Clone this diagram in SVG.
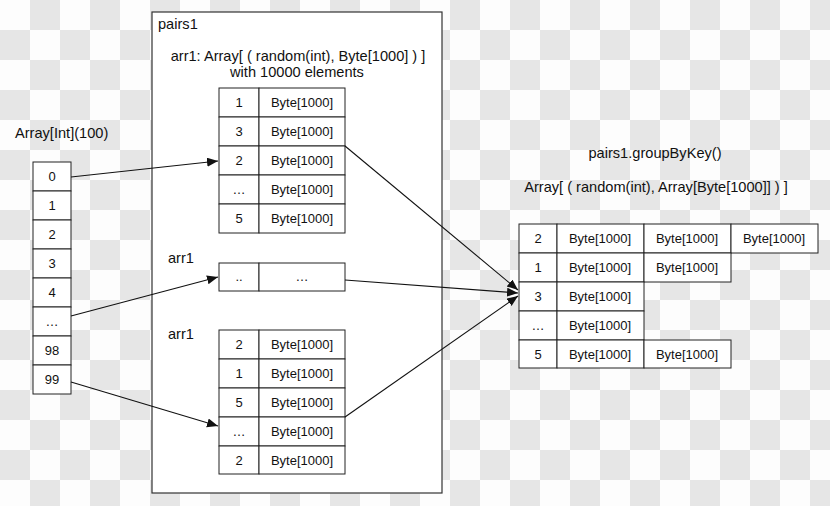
<svg xmlns="http://www.w3.org/2000/svg" width="830" height="506" viewBox="0 0 830 506">
<style>
text{font-family:"Liberation Sans",Arial,sans-serif;font-size:13px;fill:#111}
.lbl{font-size:14.6px}
.c{text-anchor:middle}
.cell{fill:#fff;stroke:#222;stroke-width:1}
.conn{stroke:#111;stroke-width:1.1;fill:none;marker-end:url(#ah)}
</style>
<defs>
<pattern id="chk" width="60" height="60" patternUnits="userSpaceOnUse">
<rect width="60" height="60" fill="#fdfdfd"/>
<rect x="30" y="0" width="30" height="30" fill="#e6e6e6"/>
<rect x="0" y="30" width="30" height="30" fill="#e6e6e6"/>
</pattern>
<marker id="ah" markerWidth="12" markerHeight="10" refX="11" refY="4.5" orient="auto" markerUnits="userSpaceOnUse">
<path d="M0,0 L11,4.5 L0,9 z" fill="#111"/>
</marker>
</defs>
<rect width="830" height="506" fill="url(#chk)"/>

<g id="pairs1">
<rect x="152" y="12" width="290" height="481" fill="#fff" stroke="#333" stroke-width="1.2"/>
<text class="lbl" x="158" y="29">pairs1</text>
<text class="lbl c" x="298" y="61">arr1: Array[ ( random(int), Byte[1000] ) ]</text>
<text class="lbl c" x="297" y="77">with 10000 elements</text>
</g>

<g id="intArray">
<text class="lbl" x="15" y="138">Array[Int](100)</text>
<rect class="cell" x="33" y="162" width="38" height="29"/>
<rect class="cell" x="33" y="191" width="38" height="29"/>
<rect class="cell" x="33" y="220" width="38" height="29"/>
<rect class="cell" x="33" y="249" width="38" height="29"/>
<rect class="cell" x="33" y="278" width="38" height="29"/>
<rect class="cell" x="33" y="307" width="38" height="29"/>
<rect class="cell" x="33" y="336" width="38" height="29"/>
<rect class="cell" x="33" y="365" width="38" height="29"/>
<text class="c" x="52" y="181">0</text>
<text class="c" x="52" y="210">1</text>
<text class="c" x="52" y="239">2</text>
<text class="c" x="52" y="268">3</text>
<text class="c" x="52" y="297">4</text>
<text class="c" x="52" y="326">…</text>
<text class="c" x="52" y="355">98</text>
<text class="c" x="52" y="384">99</text>
</g>

<g id="arr1a">
<rect class="cell" x="219" y="88" width="40" height="29"/><rect class="cell" x="259" y="88" width="86" height="29"/>
<rect class="cell" x="219" y="117" width="40" height="29"/><rect class="cell" x="259" y="117" width="86" height="29"/>
<rect class="cell" x="219" y="146" width="40" height="29"/><rect class="cell" x="259" y="146" width="86" height="29"/>
<rect class="cell" x="219" y="175" width="40" height="29"/><rect class="cell" x="259" y="175" width="86" height="29"/>
<rect class="cell" x="219" y="204" width="40" height="29"/><rect class="cell" x="259" y="204" width="86" height="29"/>
<text class="c" x="239" y="107">1</text><text class="c" x="302" y="107">Byte[1000]</text>
<text class="c" x="239" y="136">3</text><text class="c" x="302" y="136">Byte[1000]</text>
<text class="c" x="239" y="165">2</text><text class="c" x="302" y="165">Byte[1000]</text>
<text class="c" x="239" y="194">…</text><text class="c" x="302" y="194">Byte[1000]</text>
<text class="c" x="239" y="223">5</text><text class="c" x="302" y="223">Byte[1000]</text>
</g>

<g id="arr1b">
<text class="lbl" x="168" y="263">arr1</text>
<rect class="cell" x="219" y="263" width="40" height="28"/><rect class="cell" x="259" y="263" width="86" height="28"/>
<text class="c" x="239" y="281">..</text><text class="c" x="302" y="281">…</text>
</g>

<g id="arr1c">
<text class="lbl" x="168" y="339">arr1</text>
<rect class="cell" x="219" y="330" width="40" height="29"/><rect class="cell" x="259" y="330" width="86" height="29"/>
<rect class="cell" x="219" y="359" width="40" height="29"/><rect class="cell" x="259" y="359" width="86" height="29"/>
<rect class="cell" x="219" y="388" width="40" height="29"/><rect class="cell" x="259" y="388" width="86" height="29"/>
<rect class="cell" x="219" y="417" width="40" height="29"/><rect class="cell" x="259" y="417" width="86" height="29"/>
<rect class="cell" x="219" y="446" width="40" height="28"/><rect class="cell" x="259" y="446" width="86" height="28"/>
<text class="c" x="239" y="349">2</text><text class="c" x="302" y="349">Byte[1000]</text>
<text class="c" x="239" y="378">1</text><text class="c" x="302" y="378">Byte[1000]</text>
<text class="c" x="239" y="407">5</text><text class="c" x="302" y="407">Byte[1000]</text>
<text class="c" x="239" y="436">…</text><text class="c" x="302" y="436">Byte[1000]</text>
<text class="c" x="239" y="465">2</text><text class="c" x="302" y="465">Byte[1000]</text>
</g>

<g id="grouped">
<text class="lbl c" x="655" y="158">pairs1.groupByKey()</text>
<text class="lbl c" x="656" y="192">Array[ ( random(int), Array[Byte[1000]] ) ]</text>
<rect class="cell" x="519" y="224" width="38" height="29"/><rect class="cell" x="557" y="224" width="87" height="29"/><rect class="cell" x="644" y="224" width="87" height="29"/><rect class="cell" x="731" y="224" width="87" height="29"/>
<rect class="cell" x="519" y="253" width="38" height="29"/><rect class="cell" x="557" y="253" width="87" height="29"/><rect class="cell" x="644" y="253" width="87" height="29"/>
<rect class="cell" x="519" y="282" width="38" height="29"/><rect class="cell" x="557" y="282" width="87" height="29"/>
<rect class="cell" x="519" y="311" width="38" height="29"/><rect class="cell" x="557" y="311" width="87" height="29"/>
<rect class="cell" x="519" y="340" width="38" height="28"/><rect class="cell" x="557" y="340" width="87" height="28"/><rect class="cell" x="644" y="340" width="87" height="28"/>
<text class="c" x="538" y="243">2</text><text class="c" x="600" y="243">Byte[1000]</text><text class="c" x="687" y="243">Byte[1000]</text><text class="c" x="774" y="243">Byte[1000]</text>
<text class="c" x="538" y="272">1</text><text class="c" x="600" y="272">Byte[1000]</text><text class="c" x="687" y="272">Byte[1000]</text>
<text class="c" x="538" y="301">3</text><text class="c" x="600" y="301">Byte[1000]</text>
<text class="c" x="538" y="330">…</text><text class="c" x="600" y="330">Byte[1000]</text>
<text class="c" x="538" y="359">5</text><text class="c" x="600" y="359">Byte[1000]</text><text class="c" x="687" y="359">Byte[1000]</text>
</g>

<g id="connectors">
<line class="conn" x1="71" y1="177" x2="218" y2="161"/>
<line class="conn" x1="71" y1="316" x2="218" y2="277"/>
<line class="conn" x1="71" y1="382" x2="218" y2="426"/>
<line class="conn" x1="345" y1="146" x2="518" y2="290"/>
<line class="conn" x1="345" y1="280" x2="518" y2="293"/>
<line class="conn" x1="345" y1="417" x2="518" y2="296"/>
</g>
</svg>
